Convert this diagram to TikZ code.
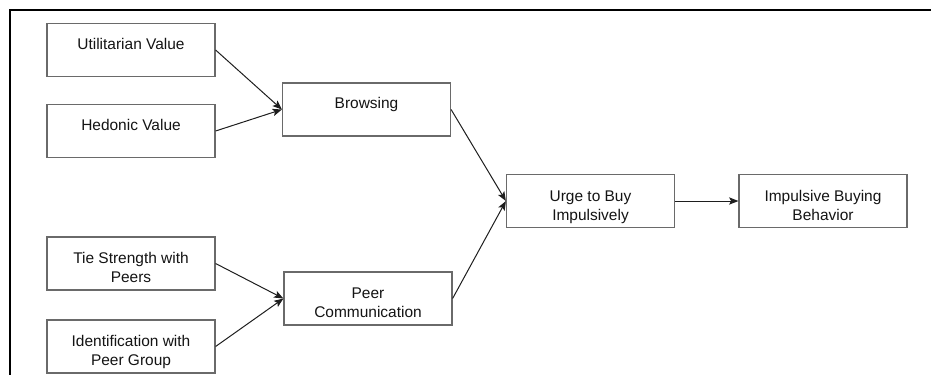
\documentclass[tikz,border=0pt]{standalone}
\usepackage{fontspec}
\setmainfont{Liberation Sans}
\usetikzlibrary{arrows.meta}
\definecolor{edge}{HTML}{1E1E1E}
\definecolor{boxline}{HTML}{6A6A6A}
\definecolor{ink}{HTML}{141414}
\tikzset{
  frame/.style={draw=black, line width=1.6pt},
  box/.style={draw=boxline, line width=0.9pt, fill=white, minimum width=126pt, minimum height=39.75pt,
    inner sep=0pt, align=center, text=ink, font=\fontsize{11.6}{14.25}\selectfont},
  one/.style={box, text height=9pt, text depth=10.5pt},
  two/.style={box, text height=30.75pt, text depth=2.25pt},
  link/.style={draw=edge, line width=0.75pt, -{Stealth[length=7pt,width=5.5pt,inset=1.5pt]}},
}
\begin{document}
\begin{tikzpicture}[x=0.75pt, y=-0.75pt]
  \useasboundingbox (0,0) rectangle (931,375);
  % frame (top and left edge only)
  \draw[frame] (931,10) -- (10,10) -- (10,375);

  % antecedents
  \node[one] (util) at (131,50)    {Utilitarian Value};
  \node[one] (hed)  at (131,131)   {Hedonic Value};
  \node[two] (tie)  at (131,263.5) {Tie Strength with\\Peers};
  \node[two] (iden) at (131,346.5) {Identification with\\Peer Group};

  % mediators
  \node[one] (brow) at (366.5,109.5) {Browsing};
  \node[two] (peer) at (368,298.5)   {Peer\\Communication};

  % outcomes
  \node[two] (urge) at (590.5,201) {Urge to Buy\\Impulsively};
  \node[two] (impb) at (823,201)   {Impulsive Buying\\Behavior};

  \draw[link] (util.east) -- (brow.west);
  \draw[link] (hed.east)  -- (brow.west);
  \draw[link] (tie.east)  -- (peer.west);
  \draw[link] (iden.east) -- (peer.west);
  \draw[link] (brow.east) -- (urge.west);
  \draw[link] (peer.east) -- (urge.west);
  \draw[link] (urge.east) -- (impb.west);
\end{tikzpicture}
\end{document}
